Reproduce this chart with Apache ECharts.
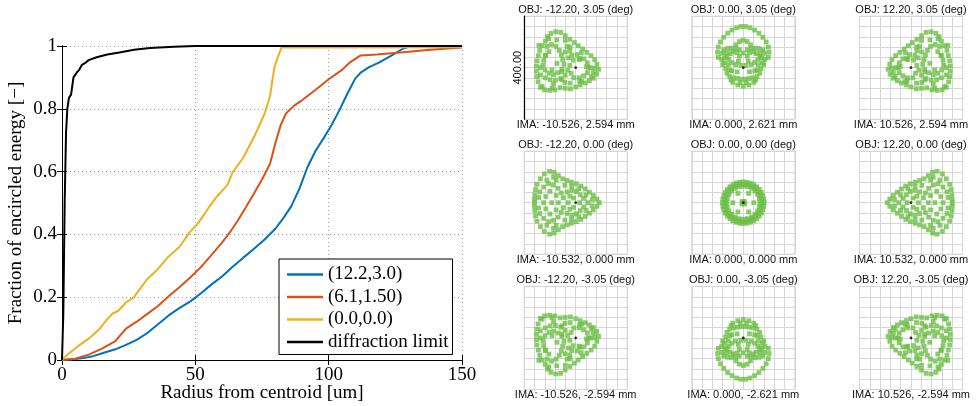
<!DOCTYPE html>
<html>
<head>
<meta charset="utf-8">
<script src="https://cdn.jsdelivr.net/npm/echarts@6/dist/echarts.min.js"></script>
<style>
html,body{margin:0;padding:0;background:#fff}
#chart{width:976px;height:406px}
</style>
</head>
<body>
<div id="chart"></div>
<script>
// Encircled energy curves, pairs of [radius from centroid (um), fraction]
const eeField12 = [[0,0],[4,0.002],[8,0.006],[12,0.013],[16,0.024],[20,0.034],[24,0.048],[28,0.064],[32,0.086],[36,0.114],[40,0.142],[44,0.165],[48,0.186],[52,0.212],[56,0.24],[60,0.266],[64,0.297],[68,0.326],[72,0.354],[76,0.384],[80,0.418],[83,0.452],[86,0.49],[89,0.545],[92,0.613],[95,0.665],[98,0.705],[101,0.747],[104,0.795],[107,0.848],[110,0.897],[112,0.915],[115,0.932],[119,0.948],[124,0.972],[128,0.992],[131,1],[150,1]];
const eeField6 = [[0,0],[5,0.004],[10,0.017],[15,0.036],[20,0.06],[24,0.1],[28,0.122],[32,0.147],[36,0.172],[40,0.203],[44,0.232],[48,0.262],[52,0.295],[56,0.334],[60,0.374],[63,0.407],[66,0.445],[69,0.487],[72,0.53],[75,0.575],[78,0.625],[80,0.69],[82,0.748],[84,0.785],[87,0.81],[90,0.827],[95,0.86],[100,0.894],[105,0.924],[108,0.948],[112,0.97],[118,0.973],[127,0.979],[137,0.987],[150,0.995]];
const eeField0 = [[0,0],[2,0.017],[6,0.044],[10,0.068],[14,0.098],[17,0.13],[19,0.148],[21,0.156],[24,0.183],[27,0.2],[30,0.235],[32,0.258],[36,0.29],[38,0.31],[40,0.33],[44,0.36],[48,0.408],[51,0.435],[55,0.485],[58,0.52],[62,0.557],[64,0.598],[68,0.645],[72,0.71],[76,0.785],[78,0.84],[79.6,0.93],[81,0.967],[82.3,0.995],[150,0.996]];
const eeDiffraction = [[0,0],[0.5,0.15],[1,0.5],[1.5,0.72],[2,0.8],[2.6,0.835],[3.4,0.845],[4.3,0.9],[5.5,0.915],[6.5,0.925],[7.5,0.94],[9,0.948],[10,0.955],[13,0.964],[17,0.973],[22,0.98],[27,0.988],[33,0.994],[42,0.998],[50,1],[150,1]];
const curveNames = ['(12.2,3.0)', '(6.1,1.50)', '(0.0,0.0)', 'diffraction limit'];

// Spot diagram labels, row by row
const objLabels = ['OBJ: -12.20, 3.05 (deg)', 'OBJ: 0.00, 3.05 (deg)', 'OBJ: 12.20, 3.05 (deg)',
                   'OBJ: -12.20, 0.00 (deg)', 'OBJ: 0.00, 0.00 (deg)', 'OBJ: 12.20, 0.00 (deg)',
                   'OBJ: -12.20, -3.05 (deg)', 'OBJ: 0.00, -3.05 (deg)', 'OBJ: 12.20, -3.05 (deg)'];
const imaLabels = ['IMA: -10.526, 2.594 mm', 'IMA: 0.000, 2.621 mm', 'IMA: 10.526, 2.594 mm',
                   'IMA: -10.532, 0.000 mm', 'IMA: 0.000, 0.000 mm', 'IMA: 10.532, 0.000 mm',
                   'IMA: -10.526, -2.594 mm', 'IMA: 0.000, -2.621 mm', 'IMA: 10.526, -2.594 mm'];
const scaleBarLabel = '400.00';

// Ray hits, in grid divisions (40 um each) relative to the chief ray
const spotTopLeft = [[-2.41,3.33],[-1.94,3.49],[-1.46,3.43],[-1.02,3.11],[-0.57,2.76],[-0.13,2.44],[0.25,2.13],[0.67,1.81],[1.08,1.49],[1.49,1.17],[1.84,0.79],[2.06,0.32],[2.22,-0.16],[2.03,-0.63],[1.71,-1.02],[1.33,-1.27],[0.92,-1.49],[0.44,-1.68],[0,-1.87],[-0.51,-2.05],[-1.02,-2],[-1.52,-1.95],[-2.03,-2.15],[-2.54,-2.2],[-3.02,-2.15],[-3.43,-1.9],[-3.65,-1.37],[-3.75,-0.86],[-3.81,-0.35],[-3.81,0.16],[-3.75,0.67],[-3.62,1.17],[-3.49,1.68],[-3.27,2.13],[-2.95,2.57],[-2.73,3.02],
[-2.79,2.06],[-2.35,2.25],[-1.9,2.06],[-1.59,1.68],[-1.4,1.24],[-1.27,0.79],[-1.14,0.32],[-1.33,-0.16],[-1.71,-0.48],[-2.16,-0.67],[-2.6,-0.54],[-2.98,-0.22],[-3.17,0.25],[-3.11,0.73],[-2.92,1.17],[-2.6,1.56],
[-0.83,2.06],[-0.57,1.65],[-0.38,1.21],[-0.25,0.73],[-0.57,0.22],[-0.76,-0.25],[-1.02,-0.73],[-1.46,-1.05],[-1.97,-1.21],[-2.48,-1.17],[-2.95,-0.98],
[0.32,0.79],[0.76,0.86],[1.14,0.48],[1.27,0],[1.14,-0.48],[0.76,-0.79],[0.32,-0.98],[-0.19,-0.98],[-0.44,-0.54],[0.13,1.27],
[0.54,1.43],[1.49,0],[1.71,-0.48],[-2.16,-1.59],[-1.05,-1.43],[0.38,-1.27],[-1.84,2.7],[-3.43,0],
[-2.62,2.81],[-1.02,2.65],[-0.54,2.01],[-1.02,1.53],[-0.7,0.96],[0.42,0.89],[1.05,0.1],[1.85,-0.06],[1.53,-0.86],[0.58,-1.34],[-0.54,-1.5],[-1.34,-1.18],[-2.3,-1.98],[-3.26,-1.82],[-3.42,-0.7],[-2.94,1.21],[-1.82,0.42],[-2.3,-0.22],[-1.34,-0.38],[-3.58,2.17]];

const spotTopMid = [[-2.43,1],[-2.5,1.5],[-2.43,2],[-2.22,2.5],[-1.9,2.95],[-1.52,3.35],[-1.1,3.65],[-0.65,3.88],[-0.22,4],[0.22,4],[0.65,3.88],[1.1,3.65],[1.52,3.35],[1.9,2.95],[2.22,2.5],[2.43,2],[2.5,1.5],[2.43,1],
[-0.7,2.22],[-0.38,2.54],[0,2.67],[0.38,2.54],[0.7,2.22],
[-1.9,1.75],[-1.52,1.87],[-1.14,1.9],[-0.76,1.84],[-0.38,1.75],[0.38,1.75],[0.76,1.84],[1.14,1.9],[1.52,1.87],[1.9,1.75],
[-2.06,1.4],[-1.65,1.43],[-1.27,1.37],[1.27,1.37],[1.65,1.43],[2.06,1.4],
[-1.78,0.95],[-1.4,0.79],[-1.84,0.48],[-1.46,0.29],[-1.71,-0.1],[-1.33,-0.22],[-1.59,-0.54],[1.78,0.95],[1.4,0.79],[1.84,0.48],[1.46,0.29],[1.71,-0.1],[1.33,-0.22],[1.59,-0.54],
[-0.38,1.11],[0.38,1.11],[-0.48,0.63],[0.48,0.63],[-0.25,0.22],[0.25,0.22],[0,1.43],
[-1.33,-0.86],[-0.95,-0.98],[-0.57,-1.05],[-0.19,-1.11],[0.19,-1.11],[0.57,-1.05],[0.95,-0.98],[1.33,-0.86],
[-1.02,-1.43],[-0.54,-1.68],[0,-1.81],[0.54,-1.68],[1.02,-1.43],
[-1.11,-0.32],[1.11,-0.32],
[-1,1.55],[1,1.55],[-0.6,1.45],[0.6,1.45],[-1.6,1.1],[1.6,1.1],[-1.1,0.5],[1.1,0.5],[-0.75,0.3],[0.75,0.3],[-0.6,-0.4],[0.6,-0.4],[-1.2,-1.2],[1.2,-1.2],[-0.3,-1.45],[0.3,-1.45],[-2.1,0.8],[2.1,0.8],[-2,0.3],[2,0.3]];

const spotTopRight = [[2.41,3.33],[1.94,3.49],[1.46,3.43],[1.02,3.11],[0.57,2.76],[0.13,2.44],[-0.25,2.13],[-0.67,1.81],[-1.08,1.49],[-1.49,1.17],[-1.84,0.79],[-2.06,0.32],[-2.22,-0.16],[-2.03,-0.63],[-1.71,-1.02],[-1.33,-1.27],[-0.92,-1.49],[-0.44,-1.68],[0,-1.87],[0.51,-2.05],[1.02,-2],[1.52,-1.95],[2.03,-2.15],[2.54,-2.2],[3.02,-2.15],[3.43,-1.9],[3.65,-1.37],[3.75,-0.86],[3.81,-0.35],[3.81,0.16],[3.75,0.67],[3.62,1.17],[3.49,1.68],[3.27,2.13],[2.95,2.57],[2.73,3.02],
[2.79,2.06],[2.35,2.25],[1.9,2.06],[1.59,1.68],[1.4,1.24],[1.27,0.79],[1.14,0.32],[1.33,-0.16],[1.71,-0.48],[2.16,-0.67],[2.6,-0.54],[2.98,-0.22],[3.17,0.25],[3.11,0.73],[2.92,1.17],[2.6,1.56],
[0.83,2.06],[0.57,1.65],[0.38,1.21],[0.25,0.73],[0.57,0.22],[0.76,-0.25],[1.02,-0.73],[1.46,-1.05],[1.97,-1.21],[2.48,-1.17],[2.95,-0.98],
[-0.32,0.79],[-0.76,0.86],[-1.14,0.48],[-1.27,0],[-1.14,-0.48],[-0.76,-0.79],[-0.32,-0.98],[0.19,-0.98],[0.44,-0.54],[-0.13,1.27],
[-0.54,1.43],[-1.49,0],[-1.71,-0.48],[2.16,-1.59],[1.05,-1.43],[-0.38,-1.27],[1.84,2.7],[3.43,0],
[2.62,2.81],[1.02,2.65],[0.54,2.01],[1.02,1.53],[0.7,0.96],[-0.42,0.89],[-1.05,0.1],[-1.85,-0.06],[-1.53,-0.86],[-0.58,-1.34],[0.54,-1.5],[1.34,-1.18],[2.3,-1.98],[3.26,-1.82],[3.42,-0.7],[2.94,1.21],[1.82,0.42],[2.3,-0.22],[1.34,-0.38],[3.58,2.17]];

const spotMidLeft = [[-3.43,2.32],[-3.05,2.79],[-2.54,3.05],[-2.1,2.95],[-1.68,2.63],[-1.27,2.32],[-0.83,2.16],[-0.41,2],[0.06,1.84],[0.51,1.62],[0.92,1.33],[1.33,1.02],[1.71,0.7],[2.06,0.35],[-3.75,1.78],[-3.9,1.27],[-3.97,0.76],[-4,0.32],[-3.11,1.52],[-2.63,1.84],[-2.16,1.71],[-1.71,1.4],[-1.4,0.95],[-1.21,0.48],[-3.49,1.05],[-3.59,0.51],[-0.83,1.05],[-0.38,1.21],[0.06,1.08],[0.44,0.76],[0.76,0.41],[-0.57,0.63],[-2.16,2.48],[-1.05,1.68],
[-3.43,-2.32],[-3.05,-2.79],[-2.54,-3.05],[-2.1,-2.95],[-1.68,-2.63],[-1.27,-2.32],[-0.83,-2.16],[-0.41,-2],[0.06,-1.84],[0.51,-1.62],[0.92,-1.33],[1.33,-1.02],[1.71,-0.7],[2.06,-0.35],[-3.75,-1.78],[-3.9,-1.27],[-3.97,-0.76],[-4,-0.32],[-3.11,-1.52],[-2.63,-1.84],[-2.16,-1.71],[-1.71,-1.4],[-1.4,-0.95],[-1.21,-0.48],[-3.49,-1.05],[-3.59,-0.51],[-0.83,-1.05],[-0.38,-1.21],[0.06,-1.08],[0.44,-0.76],[0.76,-0.41],[-0.57,-0.63],[-2.16,-2.48],[-1.05,-1.68],
[-4,0],[2.29,0],[-3.11,0],[-2.32,0],[-1.68,0],[-0.73,0],[0.38,0],[1.17,0],
[-2.8,2.2],[-1.9,2.2],[-0.4,1.6],[0.3,1.35],[1,0.75],[-2.9,0.6],[-2.5,1.1],[-1.9,0.7],[-0.2,0.45],[1.6,0.3],
[-2.8,-2.2],[-1.9,-2.2],[-0.4,-1.6],[0.3,-1.35],[1,-0.75],[-2.9,-0.6],[-2.5,-1.1],[-1.9,-0.7],[-0.2,-0.45],[1.6,-0.3]];

const spotCenter = [[0,0],[-0.12,0.12],[0.12,0.12],[-0.12,-0.12],[0.12,-0.12],
[1.02,0],[0.52,0.9],[-0.52,0.9],[-1.02,0],[-0.52,-0.9],[0.52,-0.9],
[1.6,0],[1.55,0.41],[1.39,0.8],[1.13,1.13],[0.8,1.39],[0.41,1.55],[0,1.6],[-0.41,1.55],[-0.8,1.39],[-1.13,1.13],[-1.39,0.8],[-1.55,0.41],[-1.6,0],[-1.55,-0.41],[-1.39,-0.8],[-1.13,-1.13],[-0.8,-1.39],[-0.41,-1.55],[0,-1.6],[0.41,-1.55],[0.8,-1.39],[1.13,-1.13],[1.39,-0.8],[1.55,-0.41],
[1.8,0],[1.76,0.37],[1.64,0.73],[1.46,1.06],[1.2,1.34],[0.9,1.56],[0.56,1.71],[0.19,1.79],[-0.19,1.79],[-0.56,1.71],[-0.9,1.56],[-1.2,1.34],[-1.46,1.06],[-1.64,0.73],[-1.76,0.37],[-1.8,0],[-1.76,-0.37],[-1.64,-0.73],[-1.46,-1.06],[-1.2,-1.34],[-0.9,-1.56],[-0.56,-1.71],[-0.19,-1.79],[0.19,-1.79],[0.56,-1.71],[0.9,-1.56],[1.2,-1.34],[1.46,-1.06],[1.64,-0.73],[1.76,-0.37],
[2.02,0],[1.99,0.35],[1.9,0.69],[1.75,1.01],[1.55,1.3],[1.3,1.55],[1.01,1.75],[0.69,1.9],[0.35,1.99],[0,2.02],[-0.35,1.99],[-0.69,1.9],[-1.01,1.75],[-1.3,1.55],[-1.55,1.3],[-1.75,1.01],[-1.9,0.69],[-1.99,0.35],[-2.02,0],[-1.99,-0.35],[-1.9,-0.69],[-1.75,-1.01],[-1.55,-1.3],[-1.3,-1.55],[-1.01,-1.75],[-0.69,-1.9],[-0.35,-1.99],[0,-2.02],[0.35,-1.99],[0.69,-1.9],[1.01,-1.75],[1.3,-1.55],[1.55,-1.3],[1.75,-1.01],[1.9,-0.69],[1.99,-0.35]];

const spotMidRight = [[3.43,2.32],[3.05,2.79],[2.54,3.05],[2.1,2.95],[1.68,2.63],[1.27,2.32],[0.83,2.16],[0.41,2],[-0.06,1.84],[-0.51,1.62],[-0.92,1.33],[-1.33,1.02],[-1.71,0.7],[-2.06,0.35],[3.75,1.78],[3.9,1.27],[3.97,0.76],[4,0.32],[3.11,1.52],[2.63,1.84],[2.16,1.71],[1.71,1.4],[1.4,0.95],[1.21,0.48],[3.49,1.05],[3.59,0.51],[0.83,1.05],[0.38,1.21],[-0.06,1.08],[-0.44,0.76],[-0.76,0.41],[0.57,0.63],[2.16,2.48],[1.05,1.68],
[3.43,-2.32],[3.05,-2.79],[2.54,-3.05],[2.1,-2.95],[1.68,-2.63],[1.27,-2.32],[0.83,-2.16],[0.41,-2],[-0.06,-1.84],[-0.51,-1.62],[-0.92,-1.33],[-1.33,-1.02],[-1.71,-0.7],[-2.06,-0.35],[3.75,-1.78],[3.9,-1.27],[3.97,-0.76],[4,-0.32],[3.11,-1.52],[2.63,-1.84],[2.16,-1.71],[1.71,-1.4],[1.4,-0.95],[1.21,-0.48],[3.49,-1.05],[3.59,-0.51],[0.83,-1.05],[0.38,-1.21],[-0.06,-1.08],[-0.44,-0.76],[-0.76,-0.41],[0.57,-0.63],[2.16,-2.48],[1.05,-1.68],
[4,0],[-2.29,0],[3.11,0],[2.32,0],[1.68,0],[0.73,0],[-0.38,0],[-1.17,0],
[2.8,2.2],[1.9,2.2],[0.4,1.6],[-0.3,1.35],[-1,0.75],[2.9,0.6],[2.5,1.1],[1.9,0.7],[0.2,0.45],[-1.6,0.3],
[2.8,-2.2],[1.9,-2.2],[0.4,-1.6],[-0.3,-1.35],[-1,-0.75],[2.9,-0.6],[2.5,-1.1],[1.9,-0.7],[0.2,-0.45],[-1.6,-0.3]];

const spotBotLeft = [[-2.41,-3.33],[-1.94,-3.49],[-1.46,-3.43],[-1.02,-3.11],[-0.57,-2.76],[-0.13,-2.44],[0.25,-2.13],[0.67,-1.81],[1.08,-1.49],[1.49,-1.17],[1.84,-0.79],[2.06,-0.32],[2.22,0.16],[2.03,0.63],[1.71,1.02],[1.33,1.27],[0.92,1.49],[0.44,1.68],[0,1.87],[-0.51,2.05],[-1.02,2],[-1.52,1.95],[-2.03,2.15],[-2.54,2.2],[-3.02,2.15],[-3.43,1.9],[-3.65,1.37],[-3.75,0.86],[-3.81,0.35],[-3.81,-0.16],[-3.75,-0.67],[-3.62,-1.17],[-3.49,-1.68],[-3.27,-2.13],[-2.95,-2.57],[-2.73,-3.02],
[-2.79,-2.06],[-2.35,-2.25],[-1.9,-2.06],[-1.59,-1.68],[-1.4,-1.24],[-1.27,-0.79],[-1.14,-0.32],[-1.33,0.16],[-1.71,0.48],[-2.16,0.67],[-2.6,0.54],[-2.98,0.22],[-3.17,-0.25],[-3.11,-0.73],[-2.92,-1.17],[-2.6,-1.56],
[-0.83,-2.06],[-0.57,-1.65],[-0.38,-1.21],[-0.25,-0.73],[-0.57,-0.22],[-0.76,0.25],[-1.02,0.73],[-1.46,1.05],[-1.97,1.21],[-2.48,1.17],[-2.95,0.98],
[0.32,-0.79],[0.76,-0.86],[1.14,-0.48],[1.27,0],[1.14,0.48],[0.76,0.79],[0.32,0.98],[-0.19,0.98],[-0.44,0.54],[0.13,-1.27],
[0.54,-1.43],[1.49,0],[1.71,0.48],[-2.16,1.59],[-1.05,1.43],[0.38,1.27],[-1.84,-2.7],[-3.43,0],
[-2.62,-2.81],[-1.02,-2.65],[-0.54,-2.01],[-1.02,-1.53],[-0.7,-0.96],[0.42,-0.89],[1.05,-0.1],[1.85,0.06],[1.53,0.86],[0.58,1.34],[-0.54,1.5],[-1.34,1.18],[-2.3,1.98],[-3.26,1.82],[-3.42,0.7],[-2.94,-1.21],[-1.82,-0.42],[-2.3,0.22],[-1.34,0.38],[-3.58,-2.17]];

const spotBotMid = [[-2.43,-1],[-2.5,-1.5],[-2.43,-2],[-2.22,-2.5],[-1.9,-2.95],[-1.52,-3.35],[-1.1,-3.65],[-0.65,-3.88],[-0.22,-4],[0.22,-4],[0.65,-3.88],[1.1,-3.65],[1.52,-3.35],[1.9,-2.95],[2.22,-2.5],[2.43,-2],[2.5,-1.5],[2.43,-1],
[-0.7,-2.22],[-0.38,-2.54],[0,-2.67],[0.38,-2.54],[0.7,-2.22],
[-1.9,-1.75],[-1.52,-1.87],[-1.14,-1.9],[-0.76,-1.84],[-0.38,-1.75],[0.38,-1.75],[0.76,-1.84],[1.14,-1.9],[1.52,-1.87],[1.9,-1.75],
[-2.06,-1.4],[-1.65,-1.43],[-1.27,-1.37],[1.27,-1.37],[1.65,-1.43],[2.06,-1.4],
[-1.78,-0.95],[-1.4,-0.79],[-1.84,-0.48],[-1.46,-0.29],[-1.71,0.1],[-1.33,0.22],[-1.59,0.54],[1.78,-0.95],[1.4,-0.79],[1.84,-0.48],[1.46,-0.29],[1.71,0.1],[1.33,0.22],[1.59,0.54],
[-0.38,-1.11],[0.38,-1.11],[-0.48,-0.63],[0.48,-0.63],[-0.25,-0.22],[0.25,-0.22],[0,-1.43],
[-1.33,0.86],[-0.95,0.98],[-0.57,1.05],[-0.19,1.11],[0.19,1.11],[0.57,1.05],[0.95,0.98],[1.33,0.86],
[-1.02,1.43],[-0.54,1.68],[0,1.81],[0.54,1.68],[1.02,1.43],
[-1.11,0.32],[1.11,0.32],
[-1,-1.55],[1,-1.55],[-0.6,-1.45],[0.6,-1.45],[-1.6,-1.1],[1.6,-1.1],[-1.1,-0.5],[1.1,-0.5],[-0.75,-0.3],[0.75,-0.3],[-0.6,0.4],[0.6,0.4],[-1.2,1.2],[1.2,1.2],[-0.3,1.45],[0.3,1.45],[-2.1,-0.8],[2.1,-0.8],[-2,-0.3],[2,-0.3]];

const spotBotRight = [[2.41,-3.33],[1.94,-3.49],[1.46,-3.43],[1.02,-3.11],[0.57,-2.76],[0.13,-2.44],[-0.25,-2.13],[-0.67,-1.81],[-1.08,-1.49],[-1.49,-1.17],[-1.84,-0.79],[-2.06,-0.32],[-2.22,0.16],[-2.03,0.63],[-1.71,1.02],[-1.33,1.27],[-0.92,1.49],[-0.44,1.68],[0,1.87],[0.51,2.05],[1.02,2],[1.52,1.95],[2.03,2.15],[2.54,2.2],[3.02,2.15],[3.43,1.9],[3.65,1.37],[3.75,0.86],[3.81,0.35],[3.81,-0.16],[3.75,-0.67],[3.62,-1.17],[3.49,-1.68],[3.27,-2.13],[2.95,-2.57],[2.73,-3.02],
[2.79,-2.06],[2.35,-2.25],[1.9,-2.06],[1.59,-1.68],[1.4,-1.24],[1.27,-0.79],[1.14,-0.32],[1.33,0.16],[1.71,0.48],[2.16,0.67],[2.6,0.54],[2.98,0.22],[3.17,-0.25],[3.11,-0.73],[2.92,-1.17],[2.6,-1.56],
[0.83,-2.06],[0.57,-1.65],[0.38,-1.21],[0.25,-0.73],[0.57,-0.22],[0.76,0.25],[1.02,0.73],[1.46,1.05],[1.97,1.21],[2.48,1.17],[2.95,0.98],
[-0.32,-0.79],[-0.76,-0.86],[-1.14,-0.48],[-1.27,0],[-1.14,0.48],[-0.76,0.79],[-0.32,0.98],[0.19,0.98],[0.44,0.54],[-0.13,-1.27],
[-0.54,-1.43],[-1.49,0],[-1.71,0.48],[2.16,1.59],[1.05,1.43],[-0.38,1.27],[1.84,-2.7],[3.43,0],
[2.62,-2.81],[1.02,-2.65],[0.54,-2.01],[1.02,-1.53],[0.7,-0.96],[-0.42,-0.89],[-1.05,-0.1],[-1.85,0.06],[-1.53,0.86],[-0.58,1.34],[0.54,1.5],[1.34,1.18],[2.3,1.98],[3.26,1.82],[3.42,0.7],[2.94,-1.21],[1.82,-0.42],[2.3,0.22],[1.34,0.38],[3.58,-2.17]];

const spots = [spotTopLeft, spotTopMid, spotTopRight, spotMidLeft, spotCenter, spotMidRight, spotBotLeft, spotBotMid, spotBotRight];
const chiefRay = [[0, 0]];

const serif = '"Liberation Serif", "Times New Roman", serif';
const sans = '"Liberation Sans", Arial, sans-serif';
const curveColors = ['#0072BD', '#D95319', '#EDB120', '#000000'];
const curves = [eeField12, eeField6, eeField0, eeDiffraction];

const chart = echarts.init(document.getElementById('chart'), null, { renderer: 'canvas' });

// --- encircled energy plot (grid 0, x axes 0/1, y axes 0/1) ---
const grids = [{ left: 62, top: 46, width: 400, height: 314, outerBoundsMode: 'none', containLabel: false }];
const frameTick = { show: true, inside: true, length: 5, lineStyle: { color: '#000', width: 1 } };
const dotted = { show: true, lineStyle: { color: '#9a9a9a', width: 1, type: [1, 3] } };
const xAxes = [
  { gridIndex: 0, type: 'value', min: 0, max: 150, interval: 50, position: 'bottom',
    axisLine: { show: true, lineStyle: { color: '#000', width: 1 } }, axisTick: frameTick,
    axisLabel: { color: '#000', fontFamily: serif, fontSize: 19, margin: 6 },
    splitLine: dotted,
    name: 'Radius from centroid [um]', nameLocation: 'middle', nameGap: 24, nameMoveOverlap: false,
    nameTextStyle: { color: '#000', fontFamily: serif, fontSize: 19 } },
  { gridIndex: 0, type: 'value', min: 0, max: 150, interval: 50, position: 'top',
    axisLine: { show: true, lineStyle: { color: '#000', width: 1 } }, axisTick: frameTick,
    axisLabel: { show: false }, splitLine: { show: false } }
];
const yAxes = [
  { gridIndex: 0, type: 'value', min: 0, max: 1, interval: 0.2, position: 'left',
    axisLine: { show: true, lineStyle: { color: '#000', width: 1 } }, axisTick: frameTick,
    axisLabel: { color: '#000', fontFamily: serif, fontSize: 19, margin: 5 },
    splitLine: dotted,
    name: 'Fraction of encircled energy [\u2212]', nameLocation: 'middle', nameGap: 36, nameMoveOverlap: false,
    nameTextStyle: { color: '#000', fontFamily: serif, fontSize: 19 } },
  { gridIndex: 0, type: 'value', min: 0, max: 1, interval: 0.2, position: 'right',
    axisLine: { show: true, lineStyle: { color: '#000', width: 1 } }, axisTick: frameTick,
    axisLabel: { show: false }, splitLine: { show: false } }
];
const series = curves.map((d, i) => ({
  type: 'line', name: curveNames[i], xAxisIndex: 0, yAxisIndex: 0, data: d,
  symbol: 'none', showSymbol: false, clip: false, z: 3 + i,
  lineStyle: { color: curveColors[i], width: 2 }, itemStyle: { color: curveColors[i] }
}));

// --- 3x3 spot diagram matrix (grids 1..9, axes 2..10) ---
const colCenters = [575.7, 743.3, 911];
const rowCenters = [67.7, 202.7, 338];
const box = 103;
const graphics = [];
const gridGrey = '#d6d6d6';
for (let r = 0; r < 3; r++) {
  for (let c = 0; c < 3; c++) {
    const k = r * 3 + c;
    const gi = k + 1;
    const ai = k + 2;
    const cx = colCenters[c], cy = rowCenters[r];
    grids.push({ left: cx - box / 2, top: cy - box / 2, width: box, height: box,
      outerBoundsMode: 'none', containLabel: false,
      show: true, borderColor: gridGrey, borderWidth: 1, backgroundColor: '#fff' });
    xAxes.push({ gridIndex: gi, type: 'value', min: -5, max: 5, interval: 1,
      axisLine: { show: false, onZero: false }, axisTick: { show: false }, axisLabel: { show: false },
      splitLine: { show: true, lineStyle: { color: gridGrey, width: 1 } } });
    const yAx = { gridIndex: gi, type: 'value', min: -5, max: 5, interval: 1, position: 'left',
      axisLine: { show: false, onZero: false }, axisTick: { show: false }, axisLabel: { show: false },
      splitLine: { show: true, lineStyle: { color: gridGrey, width: 1 } } };
    if (k === 0) {
      yAx.axisLine = { show: true, onZero: false, lineStyle: { color: '#000', width: 1.2 } };
      yAx.name = scaleBarLabel;
      yAx.nameLocation = 'middle';
      yAx.nameGap = 1;
      yAx.nameMoveOverlap = false;
      yAx.nameTextStyle = { color: '#111', fontFamily: sans, fontSize: 11 };
    }
    yAxes.push(yAx);
    series.push({ type: 'scatter', xAxisIndex: ai, yAxisIndex: ai, data: spots[k],
      symbol: 'rect', symbolSize: 4.8, itemStyle: { color: '#6cbf45' }, silent: true, z: 2 });
    series.push({ type: 'scatter', xAxisIndex: ai, yAxisIndex: ai, data: chiefRay,
      symbol: 'circle', symbolSize: 2.8, itemStyle: { color: '#000' }, silent: true, z: 3 });
    graphics.push({ type: 'text', x: cx, y: cy - 58, silent: true,
      style: { text: objLabels[k], fill: '#111', font: '11px ' + sans, textAlign: 'center', textVerticalAlign: 'middle' } });
    graphics.push({ type: 'text', x: cx, y: cy + 57, silent: true,
      style: { text: imaLabels[k], fill: '#111', font: '11px ' + sans, textAlign: 'center', textVerticalAlign: 'middle' } });
  }
}

chart.setOption({
  animation: false,
  backgroundColor: '#fff',
  grid: grids,
  xAxis: xAxes,
  yAxis: yAxes,
  legend: {
    data: curveNames, orient: 'vertical', left: 279, top: 259,
    padding: [5, 4, 2, 8], itemWidth: 36, itemHeight: 2.5, itemGap: 1.5, icon: 'rect',
    borderColor: '#000', borderWidth: 1, backgroundColor: '#fff',
    textStyle: { color: '#000', fontFamily: serif, fontSize: 19, lineHeight: 21 }
  },
  graphic: graphics,
  series: series
});
</script>
</body>
</html>
